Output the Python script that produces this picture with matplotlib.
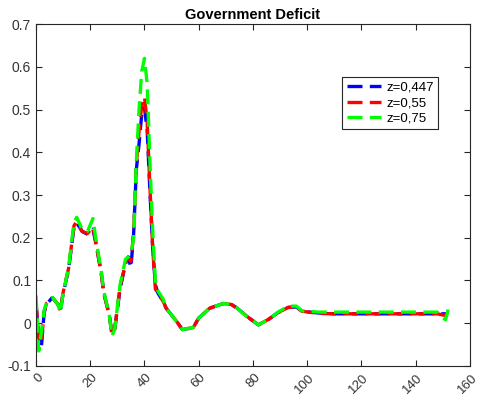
import matplotlib.pyplot as plt
import matplotlib.transforms as mtransforms
import numpy as np

plt.rcParams['font.family'] = ['Liberation Sans', 'DejaVu Sans']

# data
x = [0, 1, 2, 3, 4, 6, 8, 9, 10, 12, 14, 15, 17, 19, 21, 22, 24, 25, 27, 28,
     29, 31, 33, 34, 35, 36, 37, 38, 39, 40, 41, 42, 43, 44, 45, 47, 48, 52, 54, 58,
     60, 64, 69, 72, 74, 78, 82, 86, 89, 93, 96, 98, 104, 110, 120, 130, 140, 148, 151, 152]

z447 = [0.045, -0.03, -0.055, 0.025, 0.045, 0.06, 0.045, 0.03, 0.07, 0.125, 0.225, 0.235, 0.215, 0.208, 0.22, 0.19, 0.12, 0.07, 0.02, -0.025,
        -0.015, 0.08, 0.14, 0.155, 0.13, 0.21, 0.36, 0.42, 0.49, 0.505, 0.45, 0.31, 0.18, 0.09, 0.07, 0.05, 0.035, 0.003, -0.015, -0.01,
        0.012, 0.035, 0.046, 0.044, 0.036, 0.015, -0.004, 0.01, 0.024, 0.037, 0.038, 0.028, 0.024, 0.022, 0.022, 0.022, 0.022, 0.022, 0.022, 0.022]

z55 = [0.05, -0.035, -0.045, 0.028, 0.048, 0.06, 0.045, 0.03, 0.072, 0.128, 0.228, 0.238, 0.215, 0.21, 0.225, 0.19, 0.12, 0.07, 0.02, -0.025,
       -0.015, 0.085, 0.14, 0.155, 0.145, 0.21, 0.37, 0.45, 0.51, 0.53, 0.47, 0.32, 0.18, 0.08, 0.07, 0.05, 0.035, 0.003, -0.016, -0.01,
       0.012, 0.035, 0.046, 0.044, 0.036, 0.015, -0.004, 0.01, 0.024, 0.037, 0.038, 0.028, 0.023, 0.022, 0.022, 0.022, 0.022, 0.022, 0.018, 0.026]

z75 = [0.065, -0.065, -0.02, 0.03, 0.05, 0.06, 0.045, 0.025, 0.07, 0.13, 0.235, 0.248, 0.22, 0.215, 0.245, 0.2, 0.125, 0.075, 0.02, -0.03,
       -0.015, 0.09, 0.15, 0.155, 0.16, 0.2, 0.38, 0.5, 0.59, 0.62, 0.56, 0.38, 0.22, 0.1, 0.075, 0.055, 0.035, 0.003, -0.015, -0.01,
       0.012, 0.035, 0.046, 0.044, 0.036, 0.014, -0.004, 0.01, 0.025, 0.04, 0.04, 0.029, 0.026, 0.026, 0.026, 0.026, 0.026, 0.026, 0.008, 0.032]

labels = ['z=0,447', 'z=0,55', 'z=0,75']
colors = ['#0000ff', '#ff0000', '#00ff00']

fig = plt.figure(figsize=(4.8, 4.03), dpi=100)
ax = fig.add_axes([0.075, 0.092, 0.904, 0.848])

for y, lab, c in zip([z447, z55, z75], labels, colors):
    ax.plot(x, y, color=c, lw=2.4, dashes=(4.5, 2.2), label=lab)

ax.set_xlim(0, 160)
ax.set_ylim(-0.1, 0.7)
ax.set_xticks(np.arange(0, 161, 20))
ax.set_yticks(np.arange(-0.1, 0.71, 0.1))
ax.set_yticklabels(['-0.1', '0', '0.1', '0.2', '0.3', '0.4', '0.5', '0.6', '0.7'])
ax.tick_params(direction='in', top=True, right=True, length=4, width=0.8,
               colors='#262626', labelcolor='#333333', labelsize=10)
ax.tick_params(axis='x', pad=4, labelsize=9.5)
shift = mtransforms.ScaledTranslation(1 / 100, 0, fig.dpi_scale_trans)
for lbl in ax.get_xticklabels():
    lbl.set_rotation(45)
    lbl.set_ha('right')
    lbl.set_va('top')
    lbl.set_rotation_mode('anchor')
    lbl.set_transform(lbl.get_transform() + shift)
for s in ax.spines.values():
    s.set_color('#262626')
    s.set_linewidth(0.8)

ax.set_title('Government Deficit', fontsize=10.5, fontweight='bold', pad=4)

leg = ax.legend(loc='upper left', bbox_to_anchor=(0.69, 0.865), fontsize=9.5,
                fancybox=False, framealpha=1, edgecolor='#262626',
                borderpad=0.35, labelspacing=0.25, handlelength=2.6, handletextpad=0.4)
leg.get_frame().set_linewidth(0.8)

fig.savefig('out.png', dpi=100)
